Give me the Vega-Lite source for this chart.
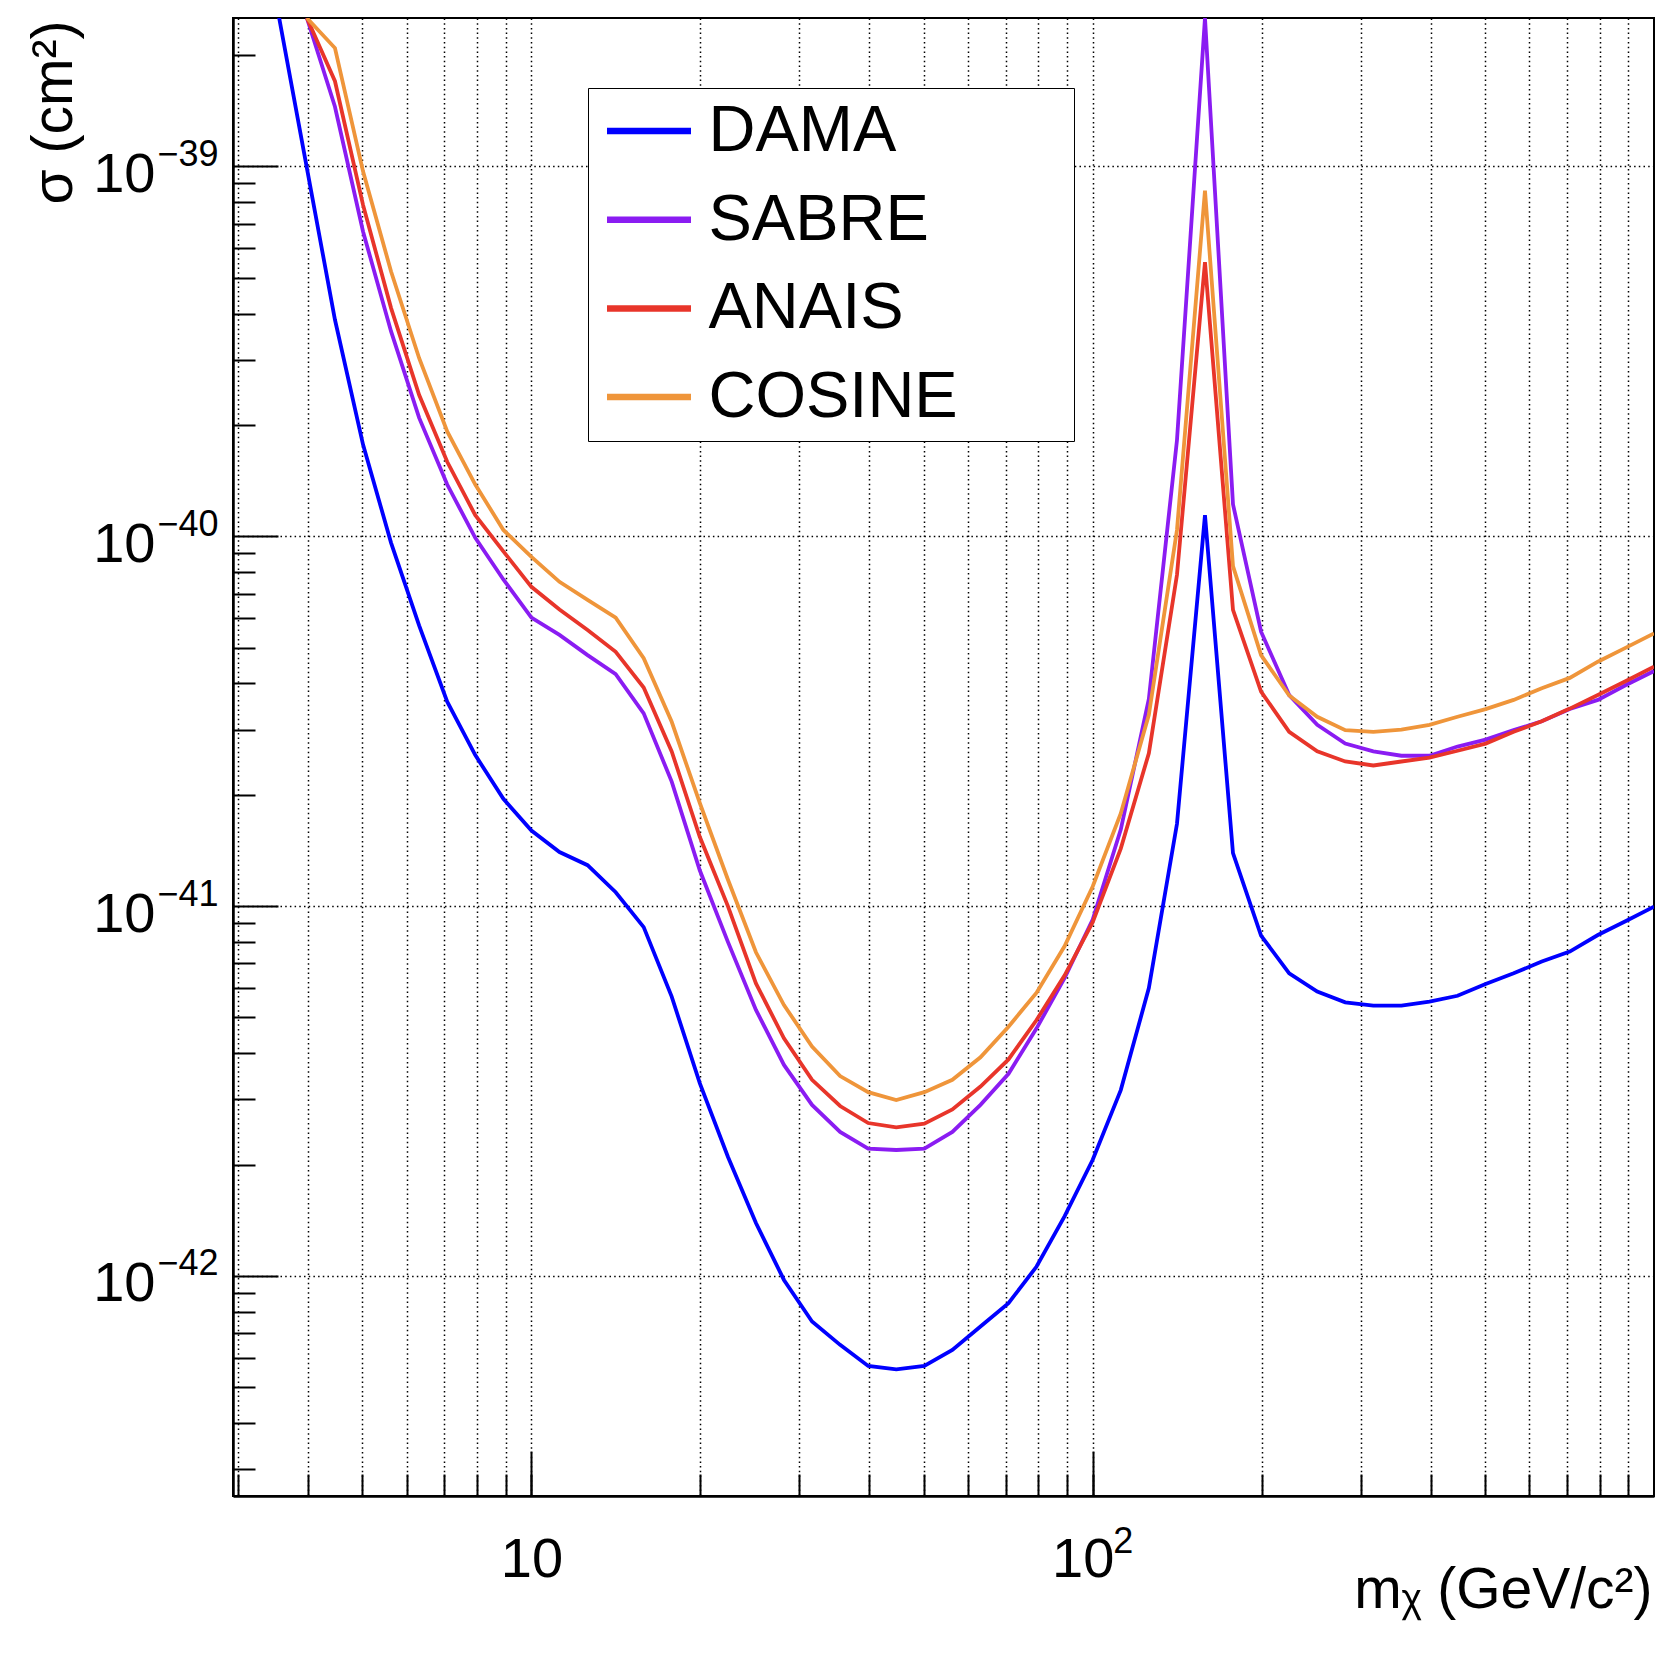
{
  "$schema": "https://vega.github.io/schema/vega-lite/v6.json",
  "width": 1421,
  "height": 1478,
  "autosize": {"type": "none"},
  "padding": {"left": 233, "top": 18, "right": 22, "bottom": 162},
  "background": "white",
  "data": {"values": [
    {"exp":"DAMA","m":3.548,"s":2.55e-39},{"exp":"DAMA","m":3.981,"s":9.9e-40},{"exp":"DAMA","m":4.467,"s":3.85e-40},{"exp":"DAMA","m":5.012,"s":1.77e-40},{"exp":"DAMA","m":5.623,"s":9.6e-41},{"exp":"DAMA","m":6.31,"s":5.73e-41},{"exp":"DAMA","m":7.079,"s":3.57e-41},{"exp":"DAMA","m":7.943,"s":2.56e-41},{"exp":"DAMA","m":8.913,"s":1.95e-41},{"exp":"DAMA","m":10,"s":1.6e-41},{"exp":"DAMA","m":11.22,"s":1.4e-41},{"exp":"DAMA","m":12.59,"s":1.29e-41},{"exp":"DAMA","m":14.13,"s":1.09e-41},{"exp":"DAMA","m":15.85,"s":8.77e-42},{"exp":"DAMA","m":17.78,"s":5.69e-42},{"exp":"DAMA","m":19.95,"s":3.32e-42},{"exp":"DAMA","m":22.39,"s":2.1e-42},{"exp":"DAMA","m":25.12,"s":1.39e-42},{"exp":"DAMA","m":28.18,"s":9.75e-43},{"exp":"DAMA","m":31.62,"s":7.53e-43},{"exp":"DAMA","m":35.48,"s":6.51e-43},{"exp":"DAMA","m":39.81,"s":5.71e-43},{"exp":"DAMA","m":44.67,"s":5.59e-43},{"exp":"DAMA","m":50.12,"s":5.71e-43},{"exp":"DAMA","m":56.23,"s":6.31e-43},{"exp":"DAMA","m":63.1,"s":7.3e-43},{"exp":"DAMA","m":70.79,"s":8.44e-43},{"exp":"DAMA","m":79.43,"s":1.06e-42},{"exp":"DAMA","m":89.13,"s":1.45e-42},{"exp":"DAMA","m":100,"s":2.06e-42},{"exp":"DAMA","m":112.2,"s":3.18e-42},{"exp":"DAMA","m":125.9,"s":6.0e-42},{"exp":"DAMA","m":141.3,"s":1.67e-41},{"exp":"DAMA","m":158.5,"s":1.14e-40},{"exp":"DAMA","m":177.8,"s":1.39e-41},{"exp":"DAMA","m":199.5,"s":8.32e-42},{"exp":"DAMA","m":223.9,"s":6.58e-42},{"exp":"DAMA","m":251.2,"s":5.87e-42},{"exp":"DAMA","m":281.8,"s":5.49e-42},{"exp":"DAMA","m":316.2,"s":5.38e-42},{"exp":"DAMA","m":354.8,"s":5.38e-42},{"exp":"DAMA","m":398.1,"s":5.52e-42},{"exp":"DAMA","m":446.7,"s":5.72e-42},{"exp":"DAMA","m":501.2,"s":6.16e-42},{"exp":"DAMA","m":562.3,"s":6.58e-42},{"exp":"DAMA","m":631,"s":7.08e-42},{"exp":"DAMA","m":707.9,"s":7.53e-42},{"exp":"DAMA","m":794.3,"s":8.35e-42},{"exp":"DAMA","m":891.3,"s":9.11e-42},{"exp":"DAMA","m":1000,"s":9.96e-42},
    {"exp":"SABRE","m":3.981,"s":2.52e-39},{"exp":"SABRE","m":4.467,"s":1.45e-39},{"exp":"SABRE","m":5.012,"s":6.67e-40},{"exp":"SABRE","m":5.623,"s":3.58e-40},{"exp":"SABRE","m":6.31,"s":2.09e-40},{"exp":"SABRE","m":7.079,"s":1.38e-40},{"exp":"SABRE","m":7.943,"s":9.9e-41},{"exp":"SABRE","m":8.913,"s":7.64e-41},{"exp":"SABRE","m":10,"s":6.03e-41},{"exp":"SABRE","m":11.22,"s":5.41e-41},{"exp":"SABRE","m":12.59,"s":4.77e-41},{"exp":"SABRE","m":14.13,"s":4.24e-41},{"exp":"SABRE","m":15.85,"s":3.32e-41},{"exp":"SABRE","m":17.78,"s":2.17e-41},{"exp":"SABRE","m":19.95,"s":1.25e-41},{"exp":"SABRE","m":22.39,"s":8.0e-42},{"exp":"SABRE","m":25.12,"s":5.24e-42},{"exp":"SABRE","m":28.18,"s":3.72e-42},{"exp":"SABRE","m":31.62,"s":2.9e-42},{"exp":"SABRE","m":35.48,"s":2.45e-42},{"exp":"SABRE","m":39.81,"s":2.21e-42},{"exp":"SABRE","m":44.67,"s":2.19e-42},{"exp":"SABRE","m":50.12,"s":2.21e-42},{"exp":"SABRE","m":56.23,"s":2.45e-42},{"exp":"SABRE","m":63.1,"s":2.9e-42},{"exp":"SABRE","m":70.79,"s":3.52e-42},{"exp":"SABRE","m":79.43,"s":4.67e-42},{"exp":"SABRE","m":89.13,"s":6.4e-42},{"exp":"SABRE","m":100,"s":9.2e-42},{"exp":"SABRE","m":112.2,"s":1.61e-41},{"exp":"SABRE","m":125.9,"s":3.63e-41},{"exp":"SABRE","m":141.3,"s":1.82e-40},{"exp":"SABRE","m":158.5,"s":2.52e-39},{"exp":"SABRE","m":177.8,"s":1.22e-40},{"exp":"SABRE","m":199.5,"s":5.52e-41},{"exp":"SABRE","m":223.9,"s":3.72e-41},{"exp":"SABRE","m":251.2,"s":3.09e-41},{"exp":"SABRE","m":281.8,"s":2.75e-41},{"exp":"SABRE","m":316.2,"s":2.62e-41},{"exp":"SABRE","m":354.8,"s":2.55e-41},{"exp":"SABRE","m":398.1,"s":2.55e-41},{"exp":"SABRE","m":446.7,"s":2.7e-41},{"exp":"SABRE","m":501.2,"s":2.82e-41},{"exp":"SABRE","m":562.3,"s":2.99e-41},{"exp":"SABRE","m":631,"s":3.16e-41},{"exp":"SABRE","m":707.9,"s":3.41e-41},{"exp":"SABRE","m":794.3,"s":3.61e-41},{"exp":"SABRE","m":891.3,"s":3.96e-41},{"exp":"SABRE","m":1000,"s":4.32e-41},
    {"exp":"ANAIS","m":3.981,"s":2.52e-39},{"exp":"ANAIS","m":4.467,"s":1.7e-39},{"exp":"ANAIS","m":5.012,"s":7.87e-40},{"exp":"ANAIS","m":5.623,"s":4.14e-40},{"exp":"ANAIS","m":6.31,"s":2.41e-40},{"exp":"ANAIS","m":7.079,"s":1.59e-40},{"exp":"ANAIS","m":7.943,"s":1.14e-40},{"exp":"ANAIS","m":8.913,"s":9.1e-41},{"exp":"ANAIS","m":10,"s":7.3e-41},{"exp":"ANAIS","m":11.22,"s":6.34e-41},{"exp":"ANAIS","m":12.59,"s":5.58e-41},{"exp":"ANAIS","m":14.13,"s":4.87e-41},{"exp":"ANAIS","m":15.85,"s":3.9e-41},{"exp":"ANAIS","m":17.78,"s":2.62e-41},{"exp":"ANAIS","m":19.95,"s":1.54e-41},{"exp":"ANAIS","m":22.39,"s":1.0e-41},{"exp":"ANAIS","m":25.12,"s":6.18e-42},{"exp":"ANAIS","m":28.18,"s":4.39e-42},{"exp":"ANAIS","m":31.62,"s":3.39e-42},{"exp":"ANAIS","m":35.48,"s":2.88e-42},{"exp":"ANAIS","m":39.81,"s":2.59e-42},{"exp":"ANAIS","m":44.67,"s":2.52e-42},{"exp":"ANAIS","m":50.12,"s":2.58e-42},{"exp":"ANAIS","m":56.23,"s":2.82e-42},{"exp":"ANAIS","m":63.1,"s":3.25e-42},{"exp":"ANAIS","m":70.79,"s":3.85e-42},{"exp":"ANAIS","m":79.43,"s":4.92e-42},{"exp":"ANAIS","m":89.13,"s":6.5e-42},{"exp":"ANAIS","m":100,"s":9.05e-42},{"exp":"ANAIS","m":112.2,"s":1.43e-41},{"exp":"ANAIS","m":125.9,"s":2.59e-41},{"exp":"ANAIS","m":141.3,"s":7.87e-41},{"exp":"ANAIS","m":158.5,"s":5.51e-40},{"exp":"ANAIS","m":177.8,"s":6.32e-41},{"exp":"ANAIS","m":199.5,"s":3.8e-41},{"exp":"ANAIS","m":223.9,"s":2.96e-41},{"exp":"ANAIS","m":251.2,"s":2.62e-41},{"exp":"ANAIS","m":281.8,"s":2.46e-41},{"exp":"ANAIS","m":316.2,"s":2.4e-41},{"exp":"ANAIS","m":354.8,"s":2.46e-41},{"exp":"ANAIS","m":398.1,"s":2.52e-41},{"exp":"ANAIS","m":446.7,"s":2.63e-41},{"exp":"ANAIS","m":501.2,"s":2.75e-41},{"exp":"ANAIS","m":562.3,"s":2.96e-41},{"exp":"ANAIS","m":631,"s":3.16e-41},{"exp":"ANAIS","m":707.9,"s":3.42e-41},{"exp":"ANAIS","m":794.3,"s":3.72e-41},{"exp":"ANAIS","m":891.3,"s":4.06e-41},{"exp":"ANAIS","m":1000,"s":4.44e-41},
    {"exp":"COSINE","m":3.981,"s":2.52e-39},{"exp":"COSINE","m":4.467,"s":2.09e-39},{"exp":"COSINE","m":5.012,"s":9.7e-40},{"exp":"COSINE","m":5.623,"s":5.2e-40},{"exp":"COSINE","m":6.31,"s":3.03e-40},{"exp":"COSINE","m":7.079,"s":1.92e-40},{"exp":"COSINE","m":7.943,"s":1.38e-40},{"exp":"COSINE","m":8.913,"s":1.04e-40},{"exp":"COSINE","m":10,"s":8.8e-41},{"exp":"COSINE","m":11.22,"s":7.53e-41},{"exp":"COSINE","m":12.59,"s":6.73e-41},{"exp":"COSINE","m":14.13,"s":6.02e-41},{"exp":"COSINE","m":15.85,"s":4.68e-41},{"exp":"COSINE","m":17.78,"s":3.15e-41},{"exp":"COSINE","m":19.95,"s":1.9e-41},{"exp":"COSINE","m":22.39,"s":1.18e-41},{"exp":"COSINE","m":25.12,"s":7.5e-42},{"exp":"COSINE","m":28.18,"s":5.4e-42},{"exp":"COSINE","m":31.62,"s":4.17e-42},{"exp":"COSINE","m":35.48,"s":3.47e-42},{"exp":"COSINE","m":39.81,"s":3.14e-42},{"exp":"COSINE","m":44.67,"s":2.99e-42},{"exp":"COSINE","m":50.12,"s":3.14e-42},{"exp":"COSINE","m":56.23,"s":3.39e-42},{"exp":"COSINE","m":63.1,"s":3.9e-42},{"exp":"COSINE","m":70.79,"s":4.72e-42},{"exp":"COSINE","m":79.43,"s":5.83e-42},{"exp":"COSINE","m":89.13,"s":7.8e-42},{"exp":"COSINE","m":100,"s":1.13e-41},{"exp":"COSINE","m":112.2,"s":1.78e-41},{"exp":"COSINE","m":125.9,"s":3.29e-41},{"exp":"COSINE","m":141.3,"s":1.04e-40},{"exp":"COSINE","m":158.5,"s":8.6e-40},{"exp":"COSINE","m":177.8,"s":8.3e-41},{"exp":"COSINE","m":199.5,"s":4.77e-41},{"exp":"COSINE","m":223.9,"s":3.71e-41},{"exp":"COSINE","m":251.2,"s":3.25e-41},{"exp":"COSINE","m":281.8,"s":2.99e-41},{"exp":"COSINE","m":316.2,"s":2.96e-41},{"exp":"COSINE","m":354.8,"s":3.0e-41},{"exp":"COSINE","m":398.1,"s":3.09e-41},{"exp":"COSINE","m":446.7,"s":3.25e-41},{"exp":"COSINE","m":501.2,"s":3.41e-41},{"exp":"COSINE","m":562.3,"s":3.61e-41},{"exp":"COSINE","m":631,"s":3.88e-41},{"exp":"COSINE","m":707.9,"s":4.14e-41},{"exp":"COSINE","m":794.3,"s":4.58e-41},{"exp":"COSINE","m":891.3,"s":5.0e-41},{"exp":"COSINE","m":1000,"s":5.46e-41}
  ]},
  "layer": [
    {
      "mark": {"type": "point", "opacity": 0},
      "encoding": {
        "x": {"field": "m", "type": "quantitative",
          "scale": {"type": "log", "domain": [2.94, 1000], "nice": false},
          "axis": {"orient": "bottom", "values": [3,4,5,6,7,8,9,10,20,30,40,50,60,70,80,90,100,200,300,400,500,600,700,800,900],
            "labels": false, "domain": false, "title": null, "ticks": true, "tickSize": -22, "tickWidth": 2, "tickColor": "black",
            "grid": true, "gridColor": "black", "gridDash": [1.5, 3.2], "gridWidth": 1.5, "gridOpacity": 1}},
        "y": {"field": "s", "type": "quantitative",
          "scale": {"type": "log", "domain": [2.54e-43, 2.52e-39], "nice": false},
          "axis": {"orient": "left", "values": [3e-43,4e-43,5e-43,6e-43,7e-43,8e-43,9e-43,2e-42,3e-42,4e-42,5e-42,6e-42,7e-42,8e-42,9e-42,2e-41,3e-41,4e-41,5e-41,6e-41,7e-41,8e-41,9e-41,2e-40,3e-40,4e-40,5e-40,6e-40,7e-40,8e-40,9e-40,2e-39],
            "labels": false, "domain": false, "title": null, "ticks": true, "tickSize": -22, "tickWidth": 2, "tickColor": "black", "grid": false}},
        "detail": {"field": "exp"}
      }
    },
    {
      "mark": {"type": "point", "opacity": 0},
      "encoding": {
        "x": {"field": "m", "type": "quantitative",
          "scale": {"type": "log", "domain": [2.94, 1000], "nice": false},
          "axis": {"orient": "bottom", "values": [100], "labelExpr": "'2'", "ticks": false, "domain": false, "grid": false, "title": null,
            "labelFont": "Liberation Sans", "labelFontSize": 36, "labelColor": "black", "labelAlign": "left", "labelBaseline": "alphabetic",
            "labelPadding": 56, "labelOffset": 20, "labelFlush": false, "labelOverlap": false}},
        "y": {"field": "s", "type": "quantitative",
          "scale": {"type": "log", "domain": [2.54e-43, 2.52e-39], "nice": false},
          "axis": {"orient": "left", "values": [1e-42, 1e-41, 1e-40, 1e-39],
            "labelExpr": "datum.value < 3e-42 ? '−42' : datum.value < 3e-41 ? '−41' : datum.value < 3e-40 ? '−40' : '−39'",
            "ticks": false, "domain": false, "grid": false, "title": null,
            "labelFont": "Liberation Sans", "labelFontSize": 36, "labelColor": "black", "labelAlign": "left", "labelBaseline": "alphabetic",
            "labelPadding": 76, "labelOffset": -1, "labelFlush": false, "labelOverlap": false}},
        "detail": {"field": "exp"}
      }
    },
    {
      "mark": {"type": "line", "clip": true, "strokeWidth": 3.8, "strokeJoin": "miter"},
      "encoding": {
        "x": {"field": "m", "type": "quantitative",
          "scale": {"type": "log", "domain": [2.94, 1000], "nice": false},
          "axis": {"orient": "bottom", "values": [10, 100], "labelExpr": "'10'",
            "tickSize": -45, "tickWidth": 2, "tickColor": "black", "domain": true, "domainColor": "black", "domainWidth": 2.5,
            "grid": false, "labelFont": "Liberation Sans", "labelFontSize": 56, "labelColor": "black", "labelPadding": 125, "labelBaseline": "alphabetic",
            "labelOffset": {"condition": {"test": "datum.value > 50", "value": -10}, "value": 0}, "labelFlush": false, "labelOverlap": false,
            "title": "mᵪ (GeV/c²)", "titleFont": "Liberation Sans", "titleFontSize": 57, "titleFontWeight": "normal", "titleColor": "black",
            "titleAnchor": "end", "titleAlign": "right", "titleBaseline": "alphabetic", "titleX": 1419, "titleY": 111}},
        "y": {"field": "s", "type": "quantitative",
          "scale": {"type": "log", "domain": [2.54e-43, 2.52e-39], "nice": false},
          "axis": {"orient": "left", "values": [1e-42, 1e-41, 1e-40, 1e-39], "labelExpr": "'10'",
            "tickSize": -45, "tickWidth": 2, "tickColor": "black", "domain": true, "domainColor": "black", "domainWidth": 2.5,
            "grid": true, "gridColor": "black", "gridDash": [1.5, 3.2], "gridWidth": 1.5, "gridOpacity": 1,
            "labelFont": "Liberation Sans", "labelFontSize": 56, "labelColor": "black", "labelPadding": 123, "labelBaseline": "alphabetic",
            "labelOffset": 25, "labelFlush": false, "labelOverlap": false,
            "title": "σ (cm²)", "titleFont": "Liberation Sans", "titleFontSize": 57, "titleFontWeight": "normal", "titleColor": "black",
            "titleAnchor": "end", "titleAngle": -90, "titleAlign": "right", "titleBaseline": "alphabetic", "titleX": -162, "titleY": 2}},
        "color": {"field": "exp", "type": "nominal",
          "scale": {"domain": ["DAMA", "SABRE", "ANAIS", "COSINE"], "range": ["#0000FF", "#8A1CF2", "#E8352A", "#EF953A"]},
          "legend": {"orient": "none", "legendX": 355, "legendY": 70, "title": null, "symbolType": "stroke", "symbolSize": 7056,
            "symbolStrokeWidth": 6.5, "symbolOffset": 8.5, "clipHeight": 72, "labelFont": "Liberation Sans", "labelFontSize": 65, "labelColor": "black", "labelOffset": 14,
            "labelLimit": 1000, "padding": 7, "rowPadding": 16.7, "strokeColor": "black", "fillColor": "white",
            "labelExpr": "datum.label + '\u00a0\u00a0\u00a0\u00a0\u00a0\u00a0\u200d'"}}
      }
    }
  ],
  "resolve": {"axis": {"x": "independent", "y": "independent"}},
  "config": {
    "view": {"stroke": "black", "strokeWidth": 2},
    "font": "Liberation Sans"
  }
}
